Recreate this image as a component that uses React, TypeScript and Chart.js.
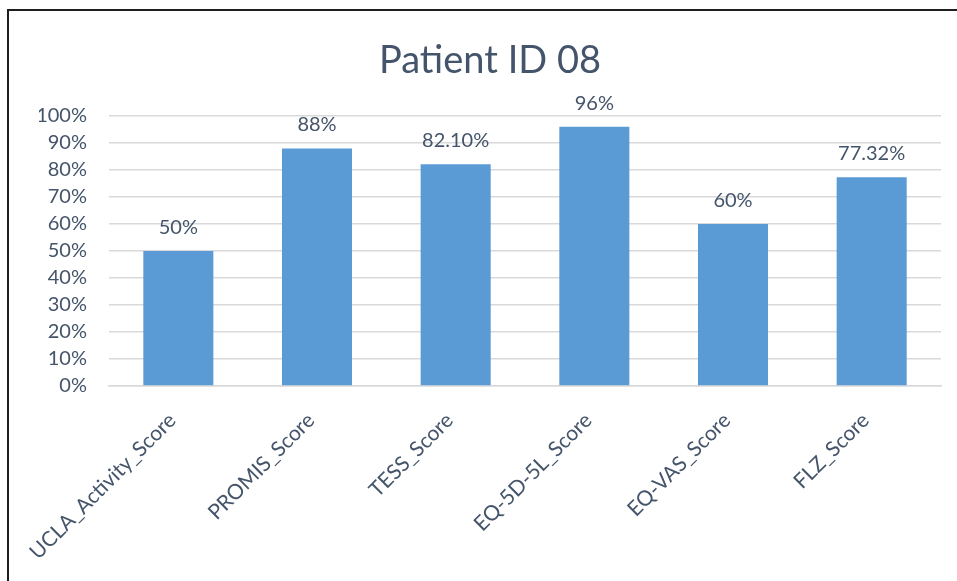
import React, { useEffect, useRef } from "react";
import { Chart, registerables } from "chart.js";

Chart.register(...registerables);

const categories = [
  "UCLA_Activity_Score",
  "PROMIS_Score",
  "TESS_Score",
  "EQ-5D-5L_Score",
  "EQ-VAS_Score",
  "FLZ_Score",
];
const scores = [50, 88, 82.1, 96, 60, 77.32];
const labelDecimals = [0, 0, 2, 0, 0, 2];
const yTicks = [0, 10, 20, 30, 40, 50, 60, 70, 80, 90, 100];

const TEXT = "#44546A";
const FONT = "Lato, 'Open Sans', sans-serif";

const valueLabels = {
  id: "valueLabels",
  afterDatasetsDraw(chart: any) {
    const { ctx } = chart;
    const meta = chart.getDatasetMeta(0);
    ctx.save();
    ctx.fillStyle = TEXT;
    ctx.font = `20px ${FONT}`;
    ctx.textAlign = "center";
    ctx.textBaseline = "alphabetic";
    meta.data.forEach((bar: any, i: number) => {
      const txt = scores[i].toFixed(labelDecimals[i]) + "%";
      ctx.fillText(txt, bar.x, bar.y - 17);
    });
    ctx.restore();
  },
};

export default function App() {
  const ref = useRef<HTMLCanvasElement>(null);

  useEffect(() => {
    if (!ref.current) return;
    const chart = new Chart(ref.current, {
      type: "bar",
      data: {
        labels: categories,
        datasets: [
          {
            data: scores,
            backgroundColor: "#5B9BD5",
            borderWidth: 0,
            barPercentage: 0.505,
            categoryPercentage: 1,
          },
        ],
      },
      options: {
        animation: false,
        responsive: false,
        layout: { padding: { left: 39, right: 39, top: 0, bottom: 0 } },
        plugins: {
          legend: { display: false },
          tooltip: { enabled: false },
          title: {
            display: true,
            text: "Patient ID 08",
            color: TEXT,
            font: { family: FONT, size: 38, weight: "normal" },
            padding: { top: 38.4, bottom: 32 },
          },
        },
        scales: {
          x: {
            grid: { display: false, drawTicks: false },
            border: { display: true, color: "#D9D9D9", width: 1.5 },
            ticks: {
              color: TEXT,
              font: { family: FONT, size: 21 },
              minRotation: 45,
              maxRotation: 45,
              padding: 22,
              labelOffset: -6,
            },
            afterFit(scale: any) {
              scale.height = 195;
            },
          },
          y: {
            min: 0,
            max: 100,
            afterBuildTicks(scale: any) {
              scale.ticks = yTicks.map((v) => ({ value: v }));
            },
            grid: { color: "#D9D9D9", lineWidth: 1.5, drawTicks: false },
            border: { display: false },
            ticks: {
              color: TEXT,
              font: { family: FONT, size: 20 },
              padding: 22,
              callback: (v: any) => v + "%",
            },
            afterFit(scale: any) {
              scale.width = 70;
            },
          },
        },
      },
      plugins: [valueLabels],
    });
    return () => chart.destroy();
  }, []);

  return (
    <div
      style={{
        position: "fixed",
        left: 0,
        top: 0,
        width: 957,
        height: 581,
        overflow: "hidden",
        background: "#fff",
      }}
    >
      <div
        style={{
          position: "absolute",
          left: 7,
          top: 9,
          width: 1000,
          height: 1000,
          border: "2px solid #1e1e1e",
          boxSizing: "border-box",
        }}
      />
      <canvas
        ref={ref}
        width={980}
        height={581}
        style={{ position: "absolute", left: 0, top: 0, width: 980, height: 581 }}
      />
    </div>
  );
}
